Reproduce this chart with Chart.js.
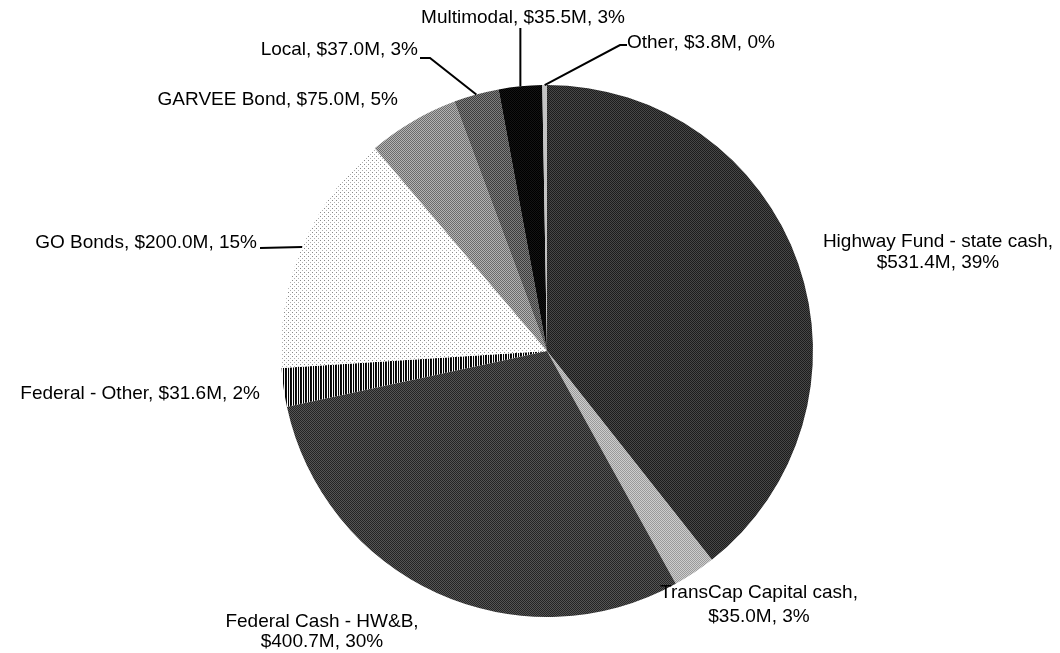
<!DOCTYPE html>
<html lang="en">
<head>
    <meta charset="UTF-8">
    <title>Funding sources</title>
    <script src="https://cdn.jsdelivr.net/npm/chart.js"></script>
    <style>
        body {
            margin: 0;
            background: #fff;
        }
        #wrap {
            width: 1060px;
            height: 653px;
        }
    </style>
</head>
<body>
    <div id="wrap"><canvas id="chart" width="1060" height="653"></canvas></div>

    <script>
        // Data (in $M), clockwise from 12 o'clock
        const sources = [
            "Highway Fund - state cash",
            "TransCap Capital cash",
            "Federal Cash - HW&B",
            "Federal - Other",
            "GO Bonds",
            "GARVEE Bond",
            "Local",
            "Multimodal",
            "Other"
        ];
        const amounts = [531.4, 35.0, 400.7, 31.6, 200.0, 75.0, 37.0, 35.5, 3.8];
        const shares = [39, 3, 30, 2, 15, 5, 3, 3, 0];   // percent as printed
        const twoLine = [true, true, true, false, false, false, false, false, false];

        // small tiles to imitate the scanned grey textures
        function tile(w, h, cells) {
            const c = document.createElement("canvas");
            c.width = w; c.height = h;
            const g = c.getContext("2d");
            cells.forEach((col, i) => {
                g.fillStyle = col;
                g.fillRect(i % w, Math.floor(i / w), 1, 1);
            });
            return g.createPattern(c, "repeat");
        }
        function checker(a, b) {
            return tile(2, 2, [a, b, b, a]);
        }

        const fills = [
            checker("#1c1c1c", "#474747"),                          // Highway Fund
            checker("#9a9a9a", "#cdcdcd"),                          // TransCap
            checker("#242424", "#555555"),                          // Federal Cash
            tile(5, 1, ["#000", "#111", "#fff", "#000", "#eee"]),   // Federal - Other
            tile(4, 4, ["#8a8a8a", "#fff", "#fff", "#fff",
                        "#fff", "#fff", "#fff", "#fff",
                        "#fff", "#fff", "#b0b0b0", "#fff",
                        "#fff", "#fff", "#fff", "#fff"]),           // GO Bonds
            checker("#6c6c6c", "#b4b4b4"),                          // GARVEE
            checker("#3c3c3c", "#7e7e7e"),                          // Local
            checker("#000000", "#141414"),                          // Multimodal
            "#c4c4c4"                                               // Other
        ];

        // where each label sits, and the bend of its leader line (if any)
        const labelSpots = [
            { x: 938, y: 242, align: "center" },
            { x: 759, y: 593, align: "center", gap: 24 },
            { x: 322, y: 622, align: "center", gap: 20 },
            { x: 260, y: 394, align: "right" },
            { x: 257, y: 243, align: "right", lead: [[260, 248]] },
            { x: 398, y: 100, align: "right" },
            { x: 418, y: 50, align: "right", lead: [[430, 58], [420, 58]] },
            { x: 523, y: 18, align: "center", lead: [["arc", 28]] },
            { x: 627, y: 43, align: "left", lead: [[620, 45], [627, 45]] }
        ];

        function money(v) {
            return "$" + v.toFixed(1) + "M";
        }

        const pieLabels = {
            id: "pieLabels",
            afterDatasetsDraw(chart) {
                const ctx = chart.ctx;
                const arcs = chart.getDatasetMeta(0).data;
                ctx.save();
                ctx.fillStyle = "#000";
                ctx.strokeStyle = "#000";
                ctx.lineWidth = 2;
                ctx.font = "19px 'Liberation Sans', Arial, sans-serif";
                ctx.textBaseline = "middle";

                arcs.forEach((arc, i) => {
                    const s = labelSpots[i];
                    const mid = (arc.startAngle + arc.endAngle) / 2;
                    const ax = arc.x + arc.outerRadius * Math.cos(mid);
                    const ay = arc.y + arc.outerRadius * Math.sin(mid);

                    if (s.lead) {
                        ctx.beginPath();
                        ctx.moveTo(ax, ay);
                        s.lead.forEach(p => {
                            if (p[0] === "arc") ctx.lineTo(ax, p[1]);
                            else ctx.lineTo(p[0], p[1]);
                        });
                        ctx.stroke();
                    }

                    ctx.textAlign = s.align;
                    const tail = money(amounts[i]) + ", " + shares[i] + "%";
                    if (twoLine[i]) {
                        ctx.fillText(sources[i] + ",", s.x, s.y);
                        ctx.fillText(tail, s.x, s.y + (s.gap || 21));
                    } else {
                        ctx.fillText(sources[i] + ", " + tail, s.x, s.y);
                    }
                });
                ctx.restore();
            }
        };

        const ctx = document.getElementById("chart").getContext("2d");
        new Chart(ctx, {
            type: "pie",
            data: {
                labels: sources,
                datasets: [{
                    data: amounts,
                    backgroundColor: fills,
                    borderWidth: 0
                }]
            },
            options: {
                responsive: false,
                animation: false,
                layout: { padding: { top: 85, bottom: 36, left: 34, right: 0 } },
                plugins: {
                    legend: { display: false },
                    tooltip: { enabled: false }
                }
            },
            plugins: [pieLabels]
        });
    </script>
</body>
</html>
